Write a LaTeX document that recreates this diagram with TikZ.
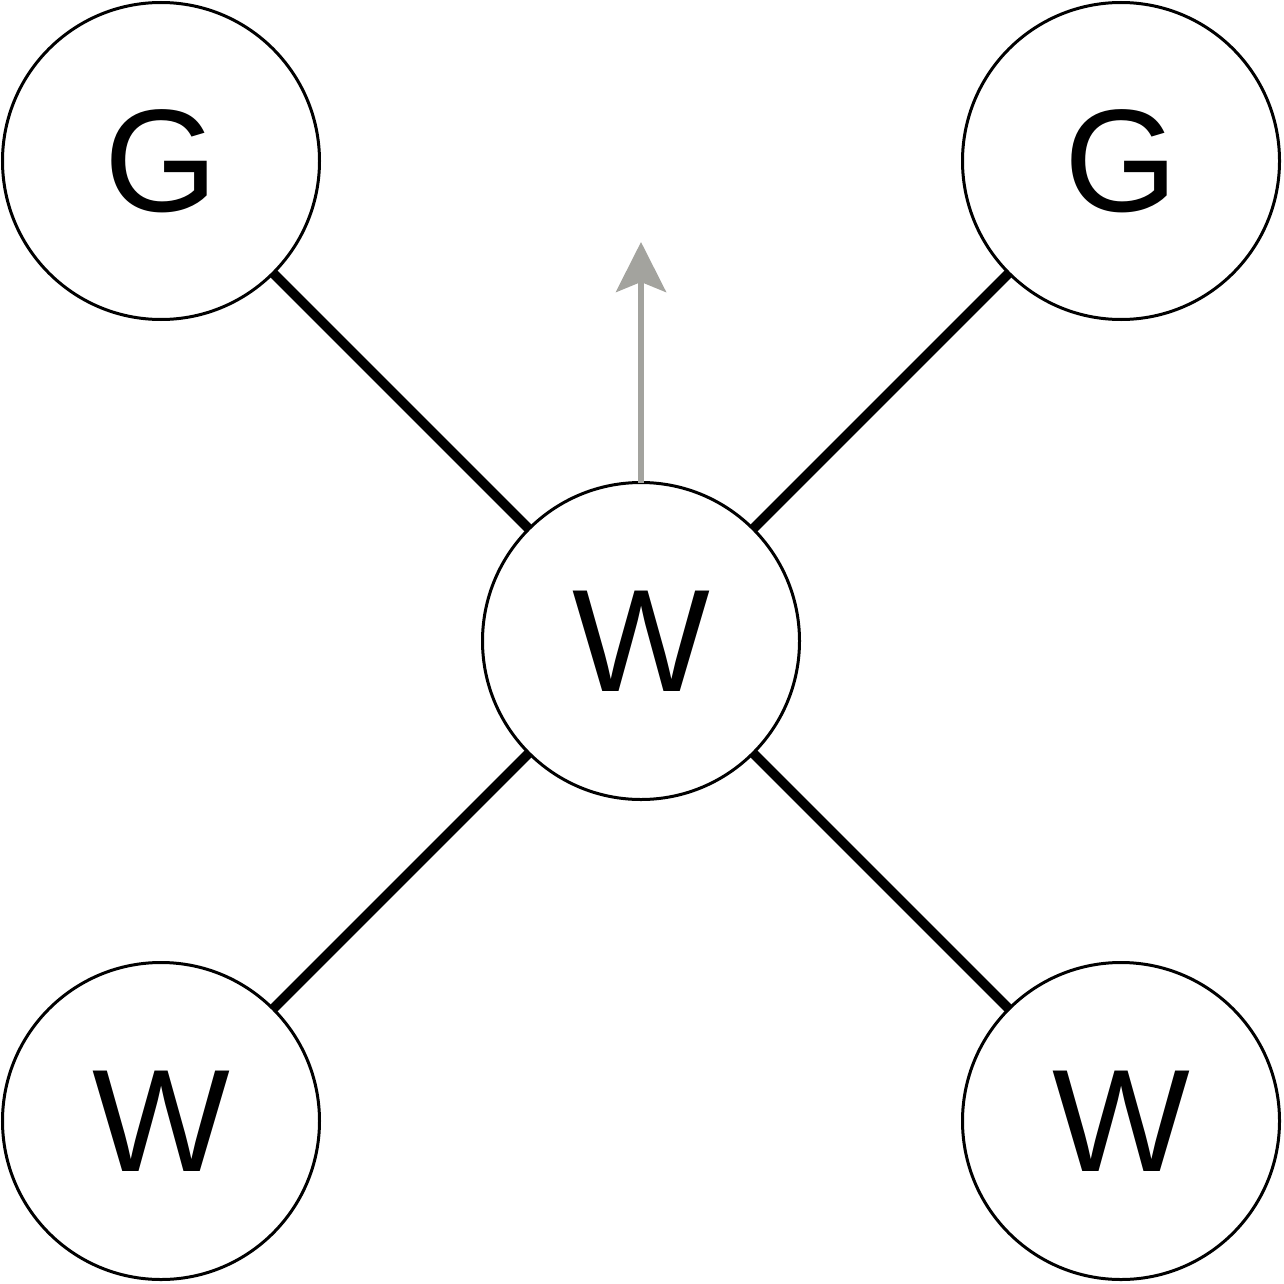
\documentclass[tikz,border=0pt]{standalone}
\usepackage{fontspec}
\setmainfont{Liberation Sans}
\usetikzlibrary{arrows.meta}
\definecolor{arrowgray}{RGB}{163,163,158}
\begin{document}
\begin{tikzpicture}[x=0.5pt,y=-0.5pt,
  ball/.style={circle,draw=black,line width=1.5pt,minimum size=158.5pt,inner sep=0pt,outer sep=0pt,
    font=\fontsize{73}{80}\selectfont},
  bond/.style={line width=4.8pt,draw=black}]
\useasboundingbox (0,0) rectangle (1284,1284);
\node[ball] (g1) at (161,161) {G};
\node[ball] (g2) at (1121,161) {G};
\node[ball] (w0) at (641,641) {W};
\node[ball] (w1) at (161,1121) {W};
\node[ball] (w2) at (1121,1121) {W};
\coordinate (tip) at (641,242);
\draw[bond] (g1) -- (w0);
\draw[bond] (g2) -- (w0);
\draw[bond] (w1) -- (w0);
\draw[bond] (w2) -- (w0);
\draw[arrowgray,line width=3pt,-{Stealth[width=25pt,length=25pt,inset=5pt]}] (w0.north) -- (tip);
\end{tikzpicture}
\end{document}
